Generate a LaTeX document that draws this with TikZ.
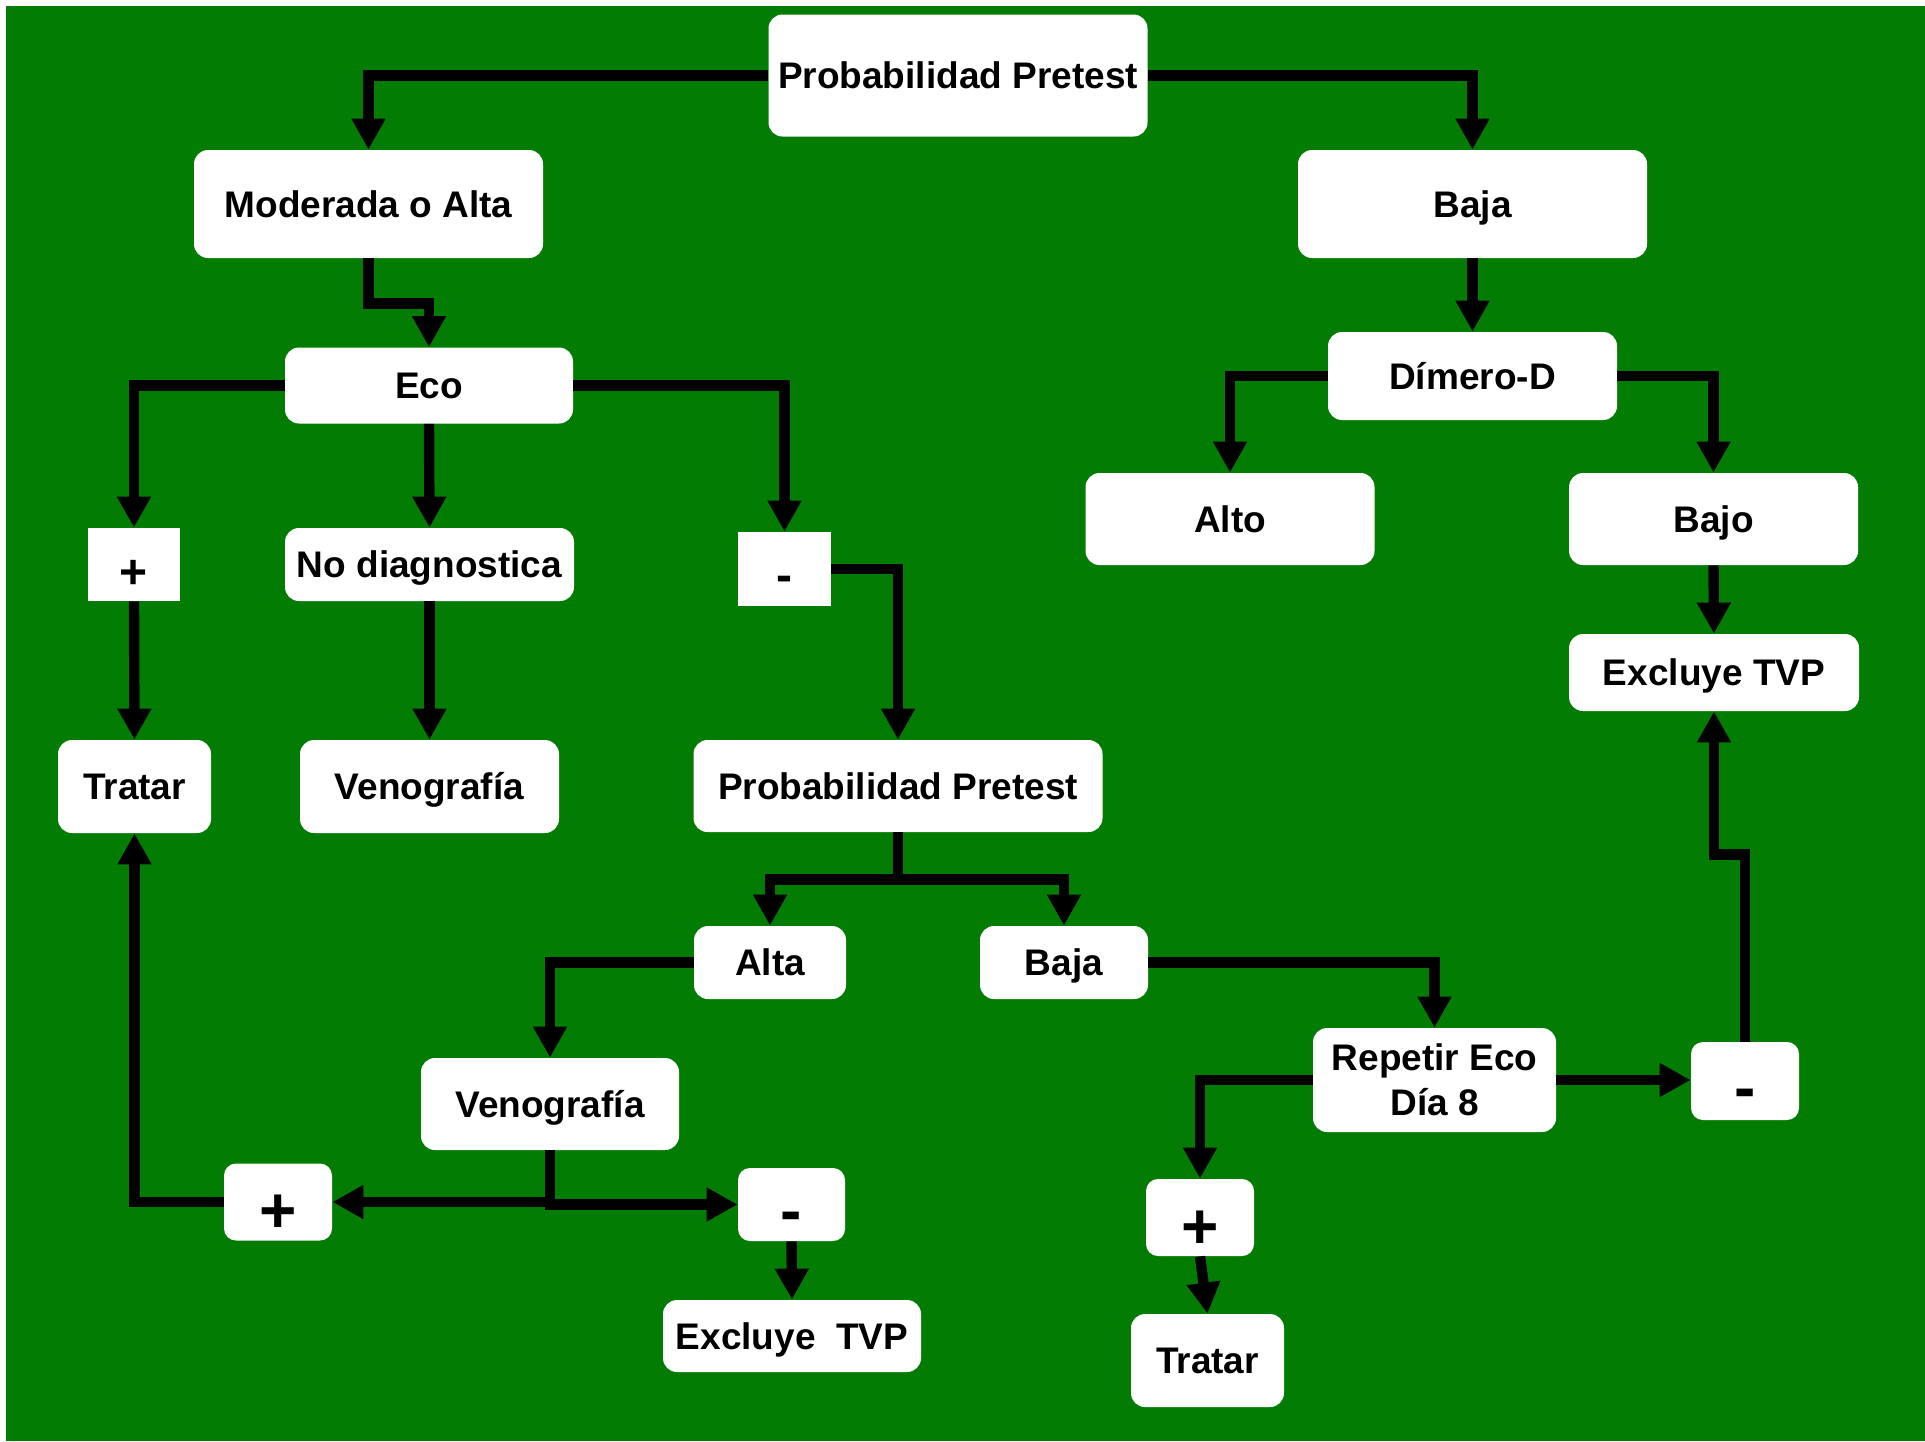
\documentclass[tikz,border=0pt]{standalone}
\usepackage{fontspec}
\setmainfont{Liberation Sans}
\usetikzlibrary{arrows.meta}
\definecolor{bggreen}{RGB}{3,124,3}
\begin{document}
\begin{tikzpicture}[x=0.5pt,y=-0.5pt,
  box/.style={fill=white, rounded corners=7pt, inner sep=0pt, align=center,
    font=\fontsize{18.5pt}{22.5pt}\selectfont\bfseries, text height=13.25pt, text depth=0pt},
  box2/.style={fill=white, rounded corners=7pt, inner sep=0pt, align=center,
    font=\fontsize{18.5pt}{22.5pt}\selectfont\bfseries},
  pmsmall/.style={fill=white, inner sep=0pt,
    font=\fontsize{24pt}{28pt}\selectfont\bfseries, text height=17.2pt, text depth=0pt},
  pmbig/.style={fill=white, rounded corners=6pt, inner sep=0pt,
    font=\fontsize{32pt}{36pt}\selectfont\bfseries, text height=22.9pt, text depth=0pt},
  sz/.style 2 args={minimum width=#1, minimum height=#2},
  conn/.style={line width=5.2pt, -{Triangle[width=16pt,length=15.5pt]}},
  plain/.style={line width=5.2pt}
]
\useasboundingbox (0,0) rectangle (1925,1441);
\fill[white] (0,0) rectangle (1925,1441);
\fill[bggreen] (6,6) rectangle (1925,1441);

% nodes
\node[box, sz={189.5pt}{61pt}] (ppt) at (958,75.5) {Probabilidad Pretest};
\node[box, sz={174.5pt}{54pt}] (mod) at (368.5,204) {Moderada o Alta};
\node[box, sz={174.5pt}{54pt}] (bajat) at (1472.5,204) {Baja};
\node[box, sz={144pt}{38pt}] (eco) at (429,385.5) {Eco};
\node[pmsmall, sz={46pt}{36.5pt}] (plus1) at (134,564.5) {\raisebox{-0.14em}{+}};
\node[box, sz={144.5pt}{36.5pt}] (nodiag) at (429.5,564.5) {No diagnostica};
\node[pmsmall, sz={46.5pt}{37pt}] (minus1) at (784.5,569) {\raisebox{-0.1em}{-}};
\node[box, sz={76.5pt}{46.5pt}] (trat1) at (134.5,786.5) {Tratar};
\node[box, sz={129.5pt}{46.5pt}] (veno1) at (429.5,786.5) {Venografía};
\node[box, sz={204.5pt}{46pt}] (ppm) at (898,786) {Probabilidad Pretest};
\node[box, sz={76pt}{36.5pt}] (alta) at (770,962.5) {Alta};
\node[box, sz={84pt}{36.5pt}] (bajam) at (1064,962.5) {Baja};
\node[box, sz={129pt}{46pt}] (veno2) at (550,1104) {Venografía};
\node[pmbig, sz={54pt}{38.5pt}] (plus2) at (278,1202) {\raisebox{-0.12em}{+}};
\node[pmbig, sz={53.5pt}{36.5pt}] (minus2) at (791.5,1204.5) {\raisebox{-0.08em}{-}};
\node[box, sz={129pt}{36pt}] (excl2) at (792,1336) {Excluye\ \ TVP};
\node[box, sz={144.5pt}{44pt}] (dimero) at (1472.5,376) {Dímero-D};
\node[box, sz={144.5pt}{46pt}] (alto) at (1230,519) {Alto};
\node[box, sz={144.5pt}{46pt}] (bajo) at (1713.5,519) {Bajo};
\node[box, sz={145pt}{38.5pt}] (excl1) at (1714,672.5) {Excluye TVP};
\node[box2, sz={121.5pt}{52pt}] (repetir) at (1434.5,1080) {Repetir Eco\\Día 8};
\node[pmbig, sz={54pt}{39pt}] (minus3) at (1745,1081) {\raisebox{-0.08em}{-}};
\node[pmbig, sz={54pt}{38.5pt}] (plus3) at (1200,1217.5) {\raisebox{-0.12em}{+}};
\node[box, sz={76.5pt}{46.5pt}] (trat2) at (1207.5,1360.5) {Tratar};

% connectors
\draw[conn] (ppt.west) -| (mod.north);
\draw[conn] (ppt.east) -| (bajat.north);
\draw[conn] (mod.south) -- ++(0,45) -| (eco.north);
\draw[conn] (eco.west) -| (plus1.north);
\draw[conn] (eco.south) -- (nodiag.north);
\draw[conn] (eco.east) -| (minus1.north);
\draw[conn] (plus1.south) -- (trat1.north);
\draw[conn] (nodiag.south) -- (veno1.north);
\draw[conn] (minus1.east) -| (ppm.north);
\draw[conn] (ppm.south) -- ++(0,47) -| (alta.north);
\draw[conn] (ppm.south) -- ++(0,47) -| (bajam.north);
\draw[conn] (alta.west) -| (veno2.north);
\draw[conn] (bajam.east) -| (repetir.north);
\draw[conn] (veno2.south) |- (plus2.east);
\draw[conn] (veno2.south) |- (minus2.west);
\draw[conn] (minus2.south) -- (excl2.north);
\draw[conn] (plus2.west) -| (trat1.south);
\draw[conn] (repetir.west) -| (plus3.north);
\draw[conn] (repetir.east) -- (repetir.east -| minus3.west);
\draw[conn] (plus3.south) -- (trat2.north);
\draw[conn] (minus3.north) -- ++(0,-187) -| (excl1.south);
\draw[conn] (bajat.south) -- (dimero.north);
\draw[conn] (dimero.west) -| (alto.north);
\draw[conn] (dimero.east) -| (bajo.north);
\draw[conn] (bajo.south) -- (excl1.north);
\end{tikzpicture}
\end{document}
